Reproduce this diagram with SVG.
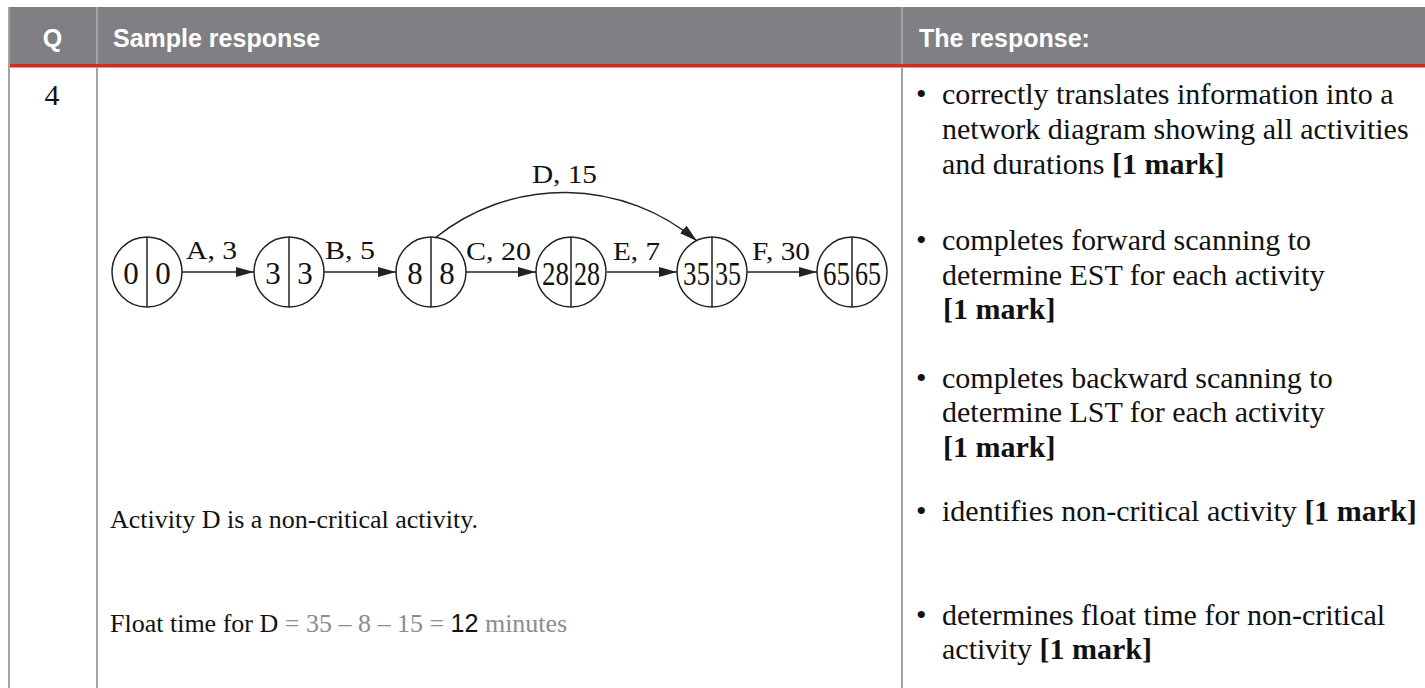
<svg xmlns="http://www.w3.org/2000/svg" width="1425" height="688" viewBox="0 0 1425 688">
<defs>
<style>
.hd{font-family:"Liberation Sans",Arial,sans-serif;font-weight:bold;font-size:25px;fill:#ffffff}
.rule{stroke:#a3a3a6;stroke-width:2}
.body{font-family:"Liberation Serif","Times New Roman",serif;font-size:30px;fill:#111}
.left{font-family:"Liberation Serif","Times New Roman",serif;font-size:26px;fill:#111}
.grey{fill:#8c8c8c}
.b{font-weight:bold}
.node circle{fill:#ffffff;stroke:#222;stroke-width:1.5}
.node line{stroke:#222;stroke-width:1.5}
.num{font-family:"Liberation Serif","Times New Roman",serif;font-size:31px;fill:#111;text-anchor:middle}
.num2{font-family:"Liberation Serif","Times New Roman",serif;font-size:33px;fill:#111;text-anchor:middle}
.lab{font-family:"Liberation Serif","Times New Roman",serif;font-size:25px;fill:#111}
.edge{fill:none;stroke:#222;stroke-width:1.5;marker-end:url(#ah)}
</style>
<marker id="ah" markerUnits="userSpaceOnUse" markerWidth="18" markerHeight="10" refX="18" refY="5" orient="auto">
<path d="M0,0 L18,5 L0,10 z" fill="#222"/>
</marker>
</defs>
<rect width="1425" height="688" fill="#ffffff"/>
<g id="table">
<rect x="9" y="7" width="1416" height="57" fill="#808084"/>
<rect x="9" y="64" width="1416" height="3.5" fill="#d52b1e"/>
<line class="rule" x1="9" y1="7" x2="9" y2="688"/>
<line class="rule" x1="97" y1="7" x2="97" y2="64"/>
<line class="rule" x1="97" y1="67.5" x2="97" y2="688"/>
<line class="rule" x1="902" y1="7" x2="902" y2="64"/>
<line class="rule" x1="902" y1="67.5" x2="902" y2="688"/>
<text class="hd" x="52.5" y="46.5" text-anchor="middle">Q</text>
<text class="hd" x="113" y="46.5">Sample response</text>
<text class="hd" x="919" y="46.5">The response:</text>
<text class="body" x="52" y="105" font-size="28" text-anchor="middle">4</text>
</g>
<g id="sample">
<text class="left" x="110" y="528">Activity D is a non-critical activity.</text>
<text class="left" x="110" y="632">Float time for D<tspan class="grey"> = 35 – 8 – 15 = </tspan><tspan font-family="Liberation Sans, Arial, sans-serif" font-size="25">12</tspan><tspan class="grey"> minutes</tspan></text>
</g>
<g id="criteria">
<text class="body" x="916" y="104" font-size="26">•</text>
<text class="body" x="942" y="104">correctly translates information into a</text>
<text class="body" x="942" y="139">network diagram showing all activities</text>
<text class="body" x="942" y="174">and durations <tspan class="b">[1 mark]</tspan></text>
<text class="body" x="916" y="250" font-size="26">•</text>
<text class="body" x="942" y="250">completes forward scanning to</text>
<text class="body" x="942" y="285">determine EST for each activity</text>
<text class="body b" x="943" y="319">[1 mark]</text>
<text class="body" x="916" y="388" font-size="26">•</text>
<text class="body" x="942" y="388">completes backward scanning to</text>
<text class="body" x="942" y="422">determine LST for each activity</text>
<text class="body b" x="943" y="457">[1 mark]</text>
<text class="body" x="916" y="521" font-size="26">•</text>
<text class="body" x="942" y="521">identifies non-critical activity <tspan class="b">[1 mark]</tspan></text>
<text class="body" x="916" y="625" font-size="26">•</text>
<text class="body" x="942" y="625">determines float time for non-critical</text>
<text class="body" x="942" y="659">activity <tspan class="b">[1 mark]</tspan></text>
</g>
<g id="connectors">
<line class="edge" x1="182" y1="272" x2="254" y2="272"/>
<line class="edge" x1="324" y1="272" x2="396" y2="272"/>
<line class="edge" x1="466" y1="272" x2="536" y2="272"/>
<line class="edge" x1="607" y1="272" x2="677" y2="272"/>
<line class="edge" x1="747" y1="272" x2="817" y2="272"/>
<path class="edge" d="M435,238 A206,206 0 0 1 697,241"/>
<text class="lab" x="186" y="259" textLength="51" lengthAdjust="spacingAndGlyphs">A, 3</text>
<text class="lab" x="325" y="259" textLength="50" lengthAdjust="spacingAndGlyphs">B, 5</text>
<text class="lab" x="466" y="260" textLength="65" lengthAdjust="spacingAndGlyphs">C, 20</text>
<text class="lab" x="613" y="260" textLength="47" lengthAdjust="spacingAndGlyphs">E, 7</text>
<text class="lab" x="752" y="260" textLength="58" lengthAdjust="spacingAndGlyphs">F, 30</text>
<text class="lab" x="532" y="183" textLength="65" lengthAdjust="spacingAndGlyphs">D, 15</text>
</g>
<g id="n1" class="node"><circle cx="147" cy="272" r="35"/><line x1="147" y1="237" x2="147" y2="307"/><text class="num" x="131" y="284">0</text><text class="num" x="163" y="284">0</text></g>
<g id="n2" class="node"><circle cx="289" cy="272" r="35"/><line x1="289" y1="237" x2="289" y2="307"/><text class="num" x="273" y="284">3</text><text class="num" x="305" y="284">3</text></g>
<g id="n3" class="node"><circle cx="431" cy="272" r="35"/><line x1="431" y1="237" x2="431" y2="307"/><text class="num" x="415" y="284">8</text><text class="num" x="447" y="284">8</text></g>
<g id="n4" class="node"><circle cx="571" cy="272" r="35"/><line x1="571" y1="237" x2="571" y2="307"/><text class="num2" x="555.5" y="285" textLength="27" lengthAdjust="spacingAndGlyphs">28</text><text class="num2" x="587" y="285" textLength="26" lengthAdjust="spacingAndGlyphs">28</text></g>
<g id="n5" class="node"><circle cx="712" cy="272" r="35"/><line x1="712" y1="237" x2="712" y2="307"/><text class="num2" x="696.5" y="285" textLength="27" lengthAdjust="spacingAndGlyphs">35</text><text class="num2" x="728" y="285" textLength="26" lengthAdjust="spacingAndGlyphs">35</text></g>
<g id="n6" class="node"><circle cx="852" cy="272" r="35"/><line x1="852" y1="237" x2="852" y2="307"/><text class="num2" x="836.5" y="285" textLength="27" lengthAdjust="spacingAndGlyphs">65</text><text class="num2" x="868" y="285" textLength="26" lengthAdjust="spacingAndGlyphs">65</text></g>
</svg>
